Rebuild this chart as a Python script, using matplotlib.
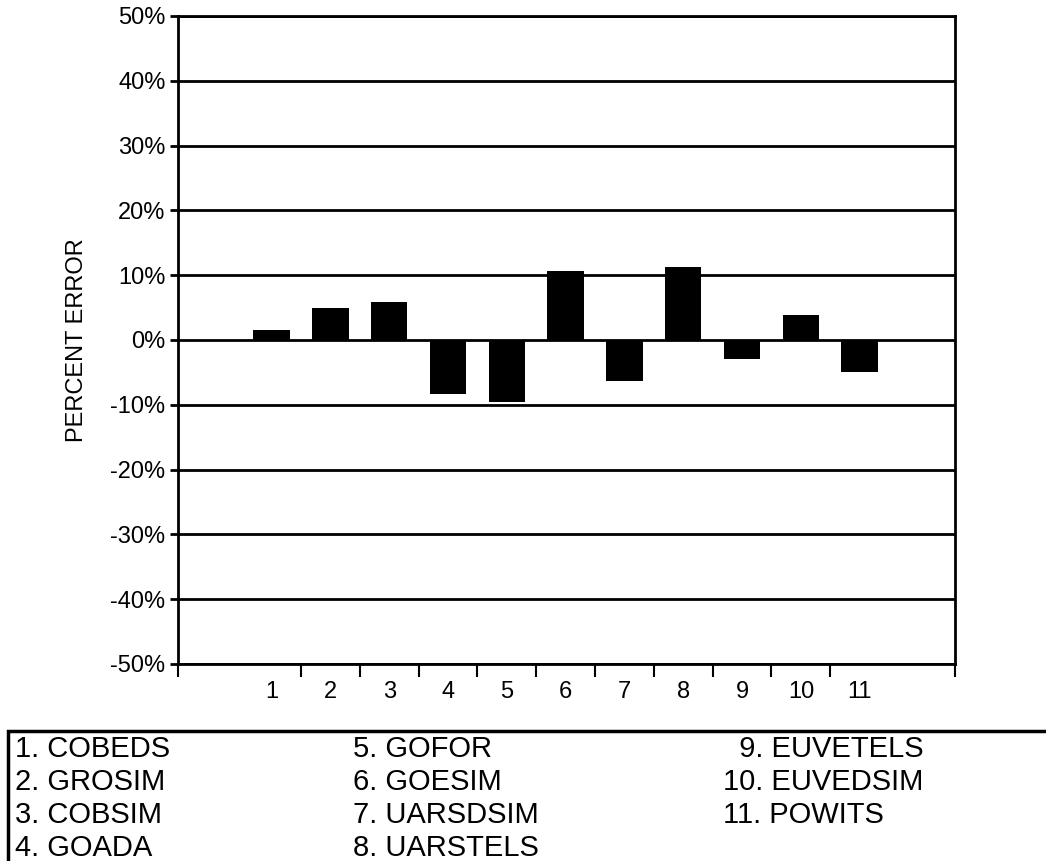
import matplotlib
matplotlib.use("Agg")
import matplotlib.pyplot as plt
from matplotlib.patches import Rectangle

# Percent error per run
runs = ["1", "2", "3", "4", "5", "6", "7", "8", "9", "10", "11"]
errors = [1.6, 4.9, 5.8, -8.3, -9.6, 10.7, -6.3, 11.2, -3.0, 3.9, -4.9]
y_ticks = [-50, -40, -30, -20, -10, 0, 10, 20, 30, 40, 50]

# Legend table, one list per column
legend_cols = [
    ["1. COBEDS", "2. GROSIM", "3. COBSIM", "4. GOADA"],
    ["5. GOFOR", "6. GOESIM", "7. UARSDSIM", "8. UARSTELS"],
    ["  9. EUVETELS", "10. EUVEDSIM", "11. POWITS"],
]

plt.rcParams["font.family"] = ["Liberation Sans", "DejaVu Sans"]

fig = plt.figure(figsize=(10.46, 8.61), dpi=100)
W, H = 1046, 861
ax = fig.add_axes([178 / W, 1 - 664 / H, (955 - 178) / W, (664 - 16) / H])

xs = list(range(1, len(runs) + 1))
ax.bar(xs, errors, width=0.62, color="black", zorder=3)

ax.set_ylim(-50, 50)
ax.set_xlim(-0.59, 12.62)
ax.set_yticks(y_ticks)
ax.set_yticklabels([f"{v}%" for v in y_ticks], fontsize=17)
for v in y_ticks:
    ax.axhline(v, color="black", lw=2, zorder=2)

# ticks sit between categories, labels centred under bars
ax.set_xticks([x + 0.5 for x in xs[:-1]] + [-0.59, 12.62])
ax.set_xticklabels([])
ax.set_xticks(xs, minor=True)
ax.set_xticklabels(runs, minor=True, fontsize=17)
ax.tick_params(axis="x", which="minor", length=0, pad=12)
ax.tick_params(axis="x", which="major", length=9, width=1.5, direction="out")
ax.tick_params(axis="y", length=6, width=2, pad=3)

for s in ax.spines.values():
    s.set_linewidth(2)

ax.set_ylabel("PERCENT ERROR", fontsize=17, labelpad=16)

# boxed legend below the chart
fig.add_artist(Rectangle((8 / W, -0.05), 1.1, 1 - 731 / H + 0.05,
                         transform=fig.transFigure, fill=False,
                         lw=2.5, ec="black", clip_on=False))
col_x = [15, 353, 723]
baselines = [757, 790, 823, 856]
for cx, col in zip(col_x, legend_cols):
    for i, txt in enumerate(col):
        fig.text(cx / W, 1 - baselines[i] / H, txt, fontsize=21,
                 va="baseline", ha="left")

fig.savefig("out.png", dpi=100)
